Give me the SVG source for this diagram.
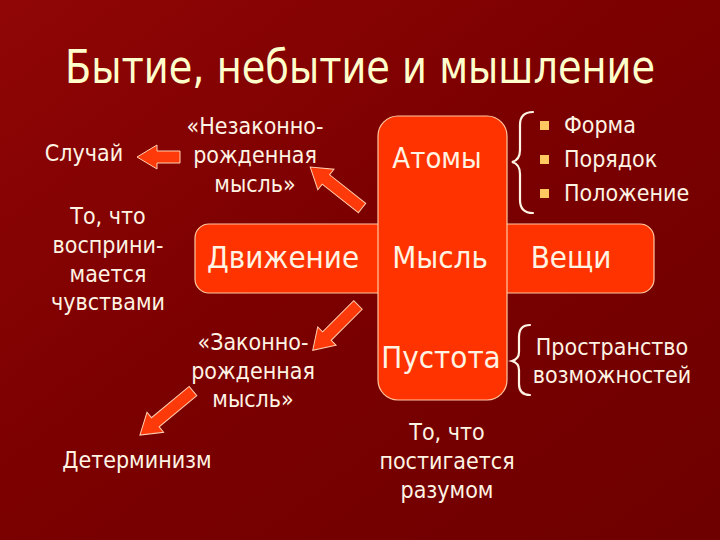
<svg xmlns="http://www.w3.org/2000/svg" width="720" height="540" viewBox="0 0 720 540">
<defs>
<linearGradient id="bg" x1="0" y1="0" x2="1" y2="1">
<stop offset="0" stop-color="#900606"/>
<stop offset="0.45" stop-color="#7c0000"/>
<stop offset="1" stop-color="#6e0000"/>
</linearGradient>
<style>
.t{font-family:"DejaVu Sans Condensed","DejaVu Sans",sans-serif;fill:#fff4e4;}
.s{font-size:23px;text-anchor:middle;}
.b{font-size:31px;text-anchor:middle;}
.box{fill:#ff3300;stroke:#ffc8a0;stroke-width:1.2;}
.arr{fill:#ff3a0a;stroke:#ffd0b0;stroke-width:1;}
.br{fill:none;stroke:#fff4e4;stroke-width:2.2;stroke-linecap:round;}
.bul{fill:#ffc860;}
</style>
</defs>
<rect width="720" height="540" fill="url(#bg)"/>
<text class="t" x="360" y="83" font-size="46" text-anchor="middle" textLength="590" lengthAdjust="spacingAndGlyphs" style="fill:#ffffcc">Бытие, небытие и мышление</text>

<g id="cross">
<rect class="box" x="195" y="224" width="459" height="69" rx="14"/>
<rect class="box" x="378" y="116" width="129" height="284" rx="20"/>
</g>
<g id="dvizhenie"><text class="t b" x="283" y="268">Движение</text></g>
<g id="mysl"><text class="t b" x="440" y="268">Мысль</text></g>
<g id="veshchi"><text class="t b" x="571" y="268">Вещи</text></g>
<g id="atomy"><text class="t b" x="437" y="168" style="font-size:29px">Атомы</text></g>
<g id="pustota"><text class="t b" x="441" y="368">Пустота</text></g>

<g id="connectors">
<polygon class="arr" points="0,-6 23,-6 23,-12 43,0 23,12 23,6 0,6" transform="translate(180,157) rotate(180)"/>
<polygon class="arr" points="0,-6 46,-6 46,-13 66,0 46,13 46,6 0,6" transform="translate(362,208) rotate(218.3)"/>
<polygon class="arr" points="0,-6 44,-6 44,-13 64,0 44,13 44,6 0,6" transform="translate(358,305) rotate(135)"/>
<polygon class="arr" points="0,-6 49,-6 49,-13 69,0 49,13 49,6 0,6" transform="translate(193,391) rotate(140.3)"/>
<path class="br" d="M533,112 Q520,112 520,125 L520,150 Q520,160 512,162 Q520,164 520,174 L520,200 Q520,213 533,213"/>
<path class="br" d="M530,325 Q519,325 519,337 L519,352 Q519,359 512,361 Q519,363 519,370 L519,384 Q519,395 530,395"/>
</g>

<g id="sluchay"><text class="t s" x="84" y="161">Случай</text></g>
<g id="nezakonno"><text class="t s" x="255" y="134">«Незаконно-</text><text class="t s" x="255" y="163">рожденная</text><text class="t s" x="255" y="192">мысль»</text></g>
<g id="chuvstva"><text class="t s" x="108" y="224">То, что</text><text class="t s" x="108" y="253">восприни-</text><text class="t s" x="108" y="282">мается</text><text class="t s" x="108" y="310">чувствами</text></g>
<g id="zakonno"><text class="t s" x="253" y="350">«Законно-</text><text class="t s" x="253" y="379">рожденная</text><text class="t s" x="253" y="407">мысль»</text></g>
<g id="determinizm"><text class="t s" x="137" y="468">Детерминизм</text></g>
<g id="razum"><text class="t s" x="447" y="440">То, что</text><text class="t s" x="447" y="469">постигается</text><text class="t s" x="447" y="498">разумом</text></g>
<g id="atom-props">
<rect class="bul" x="540" y="121" width="9" height="9"/>
<rect class="bul" x="540" y="155" width="9" height="9"/>
<rect class="bul" x="540" y="189" width="9" height="9"/>
<text class="t" x="564" y="133" font-size="23">Форма</text>
<text class="t" x="564" y="167" font-size="23">Порядок</text>
<text class="t" x="564" y="201" font-size="23">Положение</text>
</g>
<g id="prostranstvo"><text class="t s" x="612" y="355">Пространство</text><text class="t s" x="612" y="383">возможностей</text></g>
</svg>
